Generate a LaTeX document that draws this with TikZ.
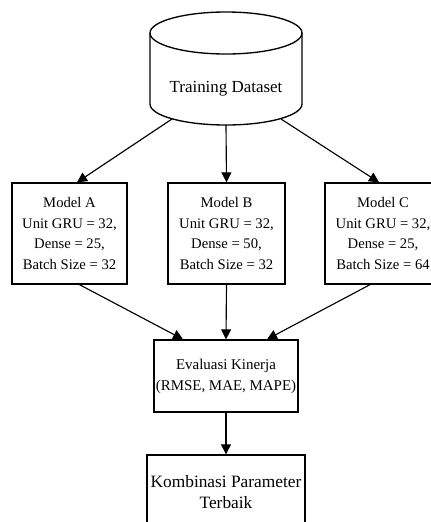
\documentclass[tikz,border=0pt]{standalone}
\usepackage{fontspec}
\setmainfont{Liberation Serif}
\usetikzlibrary{arrows.meta,calc}

\tikzset{
    box/.style={draw, line width=1pt, align=center, inner sep=0pt},
    modelbox/.style={box, minimum width=115*0.75pt, minimum height=101*0.75pt,
        font=\fontsize{11}{15.5}\selectfont},
    flow/.style={line width=0.85pt, -{Triangle[length=7.5pt,width=7.5pt]}}
}

\begin{document}
\begin{tikzpicture}[x=0.75pt,y=-0.75pt]
    \useasboundingbox[fill=white] (0,0) rectangle (431,522);

    \draw[line width=1pt] (150,33) -- (150,104) arc[start angle=180,end angle=0,x radius=76,y radius=21] -- (302,33);
    \draw[line width=1pt] (226,33) ellipse [x radius=76,y radius=21];
    \node (data) at (226,89) {\fontsize{12.7}{15}\selectfont Training Dataset};
    \coordinate (dsA) at (172,119);
    \coordinate (dsB) at (226,125);
    \coordinate (dsC) at (281,119);

    \node[modelbox] (mA) at (69.5,233.5) {Model A\\Unit GRU = 32,\\Dense = 25,\\Batch Size = 32};
    \node[modelbox, minimum width=117*0.75pt] (mB) at (226.5,233.5) {Model B\\Unit GRU = 32,\\Dense = 50,\\Batch Size = 32};
    \node[modelbox, minimum width=116*0.75pt] (mC) at (383,233.5) {Model C\\Unit GRU = 32,\\Dense = 25,\\Batch Size = 64};

    \node[box, minimum width=144*0.75pt, minimum height=72*0.75pt,
        font=\fontsize{11.2}{15.75}\selectfont] (eval) at (226,376) {Evaluasi Kinerja\\(RMSE, MAE, MAPE)};
    \node[box, minimum width=158*0.75pt, minimum height=74*0.75pt,
        font=\fontsize{13}{15.75}\selectfont] (best) at (226,492) {Kombinasi Parameter\\Terbaik};

    \draw[flow] (dsA) -- ($(mA.north)+(7.5,0)$);
    \draw[flow] (dsB) -- (mB.north);
    \draw[flow] (dsC) -- ($(mC.north)+(-4,0)$);

    \draw[flow] ($(mA.south)+(10,0)$) -- ($(eval.north)+(-43,0)$);
    \draw[flow] (mB.south) -- (eval.north);
    \draw[flow] ($(mC.south)+(-13,0)$) -- ($(eval.north)+(41,0)$);

    \draw[flow] (eval) -- (best);
\end{tikzpicture}
\end{document}
